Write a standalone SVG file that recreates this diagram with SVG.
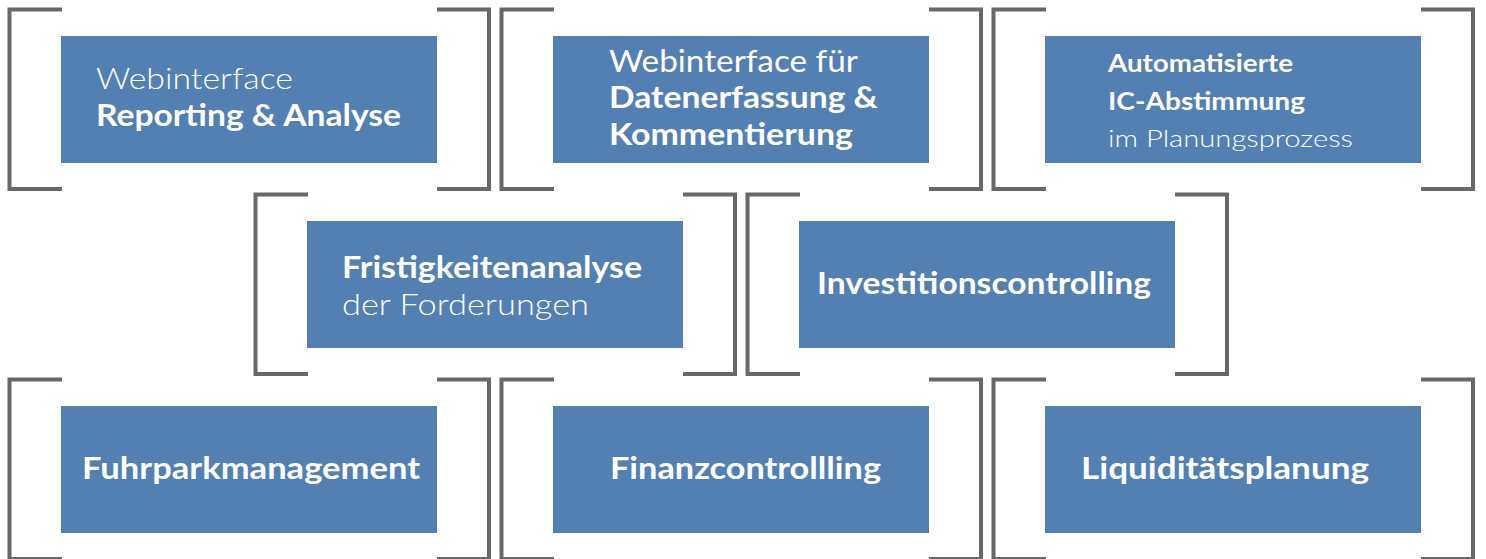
<svg xmlns="http://www.w3.org/2000/svg" width="1486" height="559" viewBox="0 0 1486 559">
<style>
.br{fill:none;stroke:#686868;stroke-width:4;stroke-linejoin:miter;stroke-linecap:butt}
.box{fill:#5280b2}
text{fill:#ffffff;font-family:Lato,"Open Sans","Liberation Sans",sans-serif;font-size:30px}
.b{font-weight:700}
.l{font-weight:300}
.s{font-size:24px}
</style>
<rect width="1486" height="559" fill="#ffffff"/>
<g id="connectors">
<!-- row 1 -->
<path class="br" d="M62,9.5 H9.5 V189 H62"/>
<path class="br" d="M437,9.5 H489 V189 H437"/>
<path class="br" d="M554,9.5 H501.5 V189 H554"/>
<path class="br" d="M929,9.5 H981 V189 H929"/>
<path class="br" d="M1046,9.5 H993.5 V189 H1046"/>
<path class="br" d="M1421,9.5 H1473 V189 H1421"/>
<!-- row 2 -->
<path class="br" d="M308,194.5 H255.5 V374 H308"/>
<path class="br" d="M683,194.5 H735 V374 H683"/>
<path class="br" d="M800,194.5 H747.5 V374 H800"/>
<path class="br" d="M1175,194.5 H1227 V374 H1175"/>
<!-- row 3 -->
<path class="br" d="M62,379.5 H9.5 V559 H62"/>
<path class="br" d="M437,379.5 H489 V559 H437"/>
<path class="br" d="M554,379.5 H501.5 V559 H554"/>
<path class="br" d="M929,379.5 H981 V559 H929"/>
<path class="br" d="M1046,379.5 H993.5 V559 H1046"/>
<path class="br" d="M1421,379.5 H1473 V559 H1421"/>
</g>
<g id="n1">
<rect class="box" x="61" y="36" width="376" height="127"/>
<text class="l" x="96" y="89" textLength="197" lengthAdjust="spacingAndGlyphs">Webinterface</text>
<text class="b" x="96" y="126" textLength="305" lengthAdjust="spacingAndGlyphs">Reporting &amp; Analyse</text>
</g>
<g id="n2">
<rect class="box" x="553" y="36" width="376" height="127"/>
<text x="609" y="72" textLength="249" lengthAdjust="spacingAndGlyphs">Webinterface für</text>
<text class="b" x="609" y="108" textLength="269" lengthAdjust="spacingAndGlyphs">Datenerfassung &amp;</text>
<text class="b" x="609" y="145" textLength="244" lengthAdjust="spacingAndGlyphs">Kommentierung</text>
</g>
<g id="n3">
<rect class="box" x="1045" y="36" width="376" height="127"/>
<text class="b s" x="1108" y="72" textLength="185" lengthAdjust="spacingAndGlyphs">Automatisierte</text>
<text class="b s" x="1108" y="110" textLength="197" lengthAdjust="spacingAndGlyphs">IC-Abstimmung</text>
<text class="l s" x="1108" y="147" textLength="245" lengthAdjust="spacingAndGlyphs">im Planungsprozess</text>
</g>
<g id="n4">
<rect class="box" x="307" y="221" width="376" height="127"/>
<text class="b" x="342" y="278" textLength="300" lengthAdjust="spacingAndGlyphs">Fristigkeitenanalyse</text>
<text class="l" x="342" y="315" textLength="247" lengthAdjust="spacingAndGlyphs">der Forderungen</text>
</g>
<g id="n5">
<rect class="box" x="799" y="221" width="376" height="127"/>
<text class="b" x="817" y="294" textLength="334" lengthAdjust="spacingAndGlyphs">Investitionscontrolling</text>
</g>
<g id="n6">
<rect class="box" x="61" y="406" width="376" height="127"/>
<text class="b" x="82" y="479" textLength="338" lengthAdjust="spacingAndGlyphs">Fuhrparkmanagement</text>
</g>
<g id="n7">
<rect class="box" x="553" y="406" width="376" height="127"/>
<text class="b" x="610" y="479" textLength="271" lengthAdjust="spacingAndGlyphs">Finanzcontrollling</text>
</g>
<g id="n8">
<rect class="box" x="1045" y="406" width="376" height="127"/>
<text class="b" x="1081" y="479" textLength="288" lengthAdjust="spacingAndGlyphs">Liquiditätsplanung</text>
</g>
</svg>
